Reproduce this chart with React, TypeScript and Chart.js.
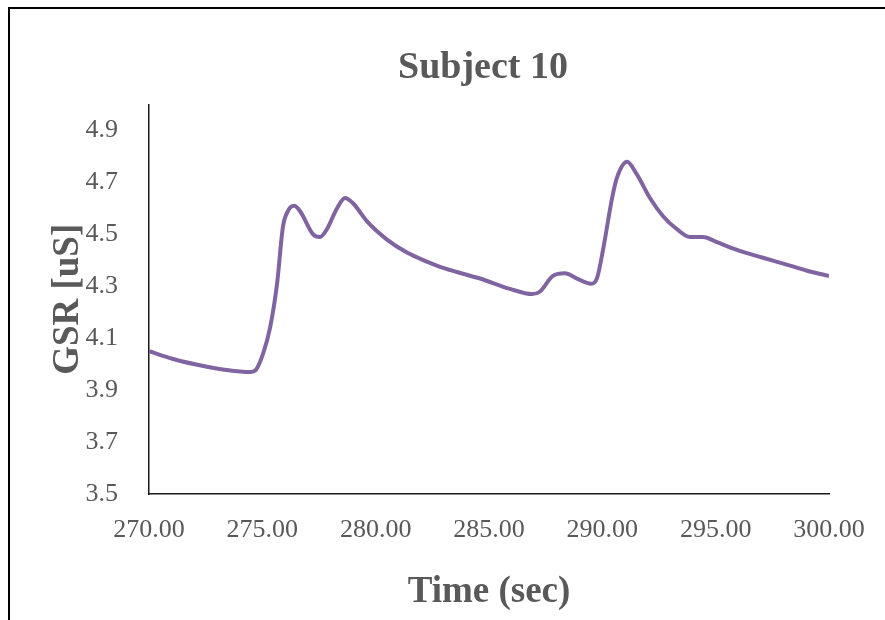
import React, { useEffect, useRef } from "react";
import { Chart, registerables } from "chart.js";

Chart.register(...registerables);

const TITLE = "Subject 10";
const X_TITLE = "Time (sec)";
const Y_TITLE = "GSR [uS]";

const TIME = [
  270.0, 271.06, 272.56, 273.26, 274.46, 274.68, 275.03, 275.34, 275.65, 275.91,
  276.13, 276.4, 276.66, 277.24, 277.54, 277.85, 278.29, 278.65, 279.0, 279.62,
  280.5, 281.38, 282.26, 282.84, 283.59, 284.6, 285.93, 286.9, 287.25, 287.82,
  288.35, 288.88, 289.5, 289.76, 290.03, 290.43, 290.65, 291.09, 291.53, 292.1,
  292.68, 293.29, 293.87, 294.44, 295.06, 295.94, 297.09, 298.28, 299.03, 300.0,
];
const GSR = [
  4.05, 4.02, 3.99, 3.98, 3.97, 3.975, 4.04, 4.14, 4.31, 4.53,
  4.59, 4.61, 4.59, 4.5, 4.49, 4.52, 4.6, 4.64, 4.62, 4.55,
  4.48, 4.43, 4.395, 4.375, 4.355, 4.33, 4.29, 4.27, 4.28, 4.34,
  4.35, 4.33, 4.31, 4.33, 4.44, 4.64, 4.72, 4.78, 4.73, 4.64,
  4.57, 4.52, 4.49, 4.49, 4.47, 4.44, 4.41, 4.38, 4.36, 4.34,
];
const Y_TICKS = [3.5, 3.7, 3.9, 4.1, 4.3, 4.5, 4.7, 4.9];
const X_TICKS = [270, 275, 280, 285, 290, 295, 300];

const FONT = '"Liberation Serif", "Times New Roman", serif';
const GREY = "#595959";

export default function App() {
  const ref = useRef<HTMLCanvasElement | null>(null);

  useEffect(() => {
    if (!ref.current) return;
    const chart = new Chart(ref.current, {
      type: "line",
      data: {
        datasets: [
          {
            label: Y_TITLE,
            data: TIME.map((t, i) => ({ x: t, y: GSR[i] })),
            borderColor: "#8064A2",
            borderWidth: 4,
            pointRadius: 0,
            cubicInterpolationMode: "monotone",
            fill: false,
          },
        ],
      },
      options: {
        animation: false,
        responsive: false,
        devicePixelRatio: 1,
        layout: { padding: 0 },
        plugins: {
          legend: { display: false },
          tooltip: { enabled: false },
          title: {
            display: true,
            text: TITLE,
            color: GREY,
            font: { family: FONT, size: 38, weight: "bold", lineHeight: 1.2 },
            padding: { top: 36, bottom: 14 },
          },
        },
        scales: {
          x: {
            type: "linear",
            min: 270,
            max: 300,
            afterBuildTicks: (s: any) => {
              s.ticks = X_TICKS.map((v) => ({ value: v }));
            },
            afterFit: (s: any) => {
              s.height = 126;
            },
            grid: { display: false },
            border: { display: true, color: "#1a1a1a", width: 1.5 },
            ticks: {
              color: GREY,
              padding: 13,
              maxRotation: 0,
              autoSkip: false,
              font: { family: FONT, size: 26 },
              callback: (v: any) => Number(v).toFixed(2),
            },
            title: {
              display: true,
              text: X_TITLE,
              color: GREY,
              font: { family: FONT, size: 37, weight: "bold", lineHeight: 1.2 },
              padding: { top: 0, bottom: 5 },
            },
          },
          y: {
            type: "linear",
            position: "left",
            min: 3.5,
            max: 5.0,
            afterBuildTicks: (s: any) => {
              s.ticks = Y_TICKS.map((v) => ({ value: v }));
            },
            afterFit: (s: any) => {
              s.width = 139;
            },
            grid: { display: false },
            border: { display: true, color: "#1a1a1a", width: 1.5 },
            ticks: {
              color: GREY,
              padding: 23,
              autoSkip: false,
              font: { family: FONT, size: 26 },
              callback: (v: any) => Number(v).toFixed(1),
            },
            title: {
              display: true,
              text: Y_TITLE,
              color: GREY,
              font: { family: FONT, size: 37, weight: "bold", lineHeight: 1.2 },
              padding: { top: 36, bottom: 0 },
            },
          },
          spacer: {
            type: "linear",
            position: "right",
            display: true,
            afterFit: (s: any) => {
              s.width = 127;
            },
            grid: { display: false },
            border: { display: false },
            ticks: { display: false },
          },
        },
      },
    } as any);
    return () => chart.destroy();
  }, []);

  return (
    <div
      style={{
        position: "fixed",
        left: 8,
        top: 7,
        width: 877,
        height: 613,
        overflow: "hidden",
        borderLeft: "2px solid #000",
        borderTop: "2px solid #000",
        boxSizing: "border-box",
        background: "#fff",
      }}
    >
      <canvas
        ref={ref}
        width={946}
        height={611}
        style={{ display: "block", width: 946, height: 611 }}
      />
    </div>
  );
}
